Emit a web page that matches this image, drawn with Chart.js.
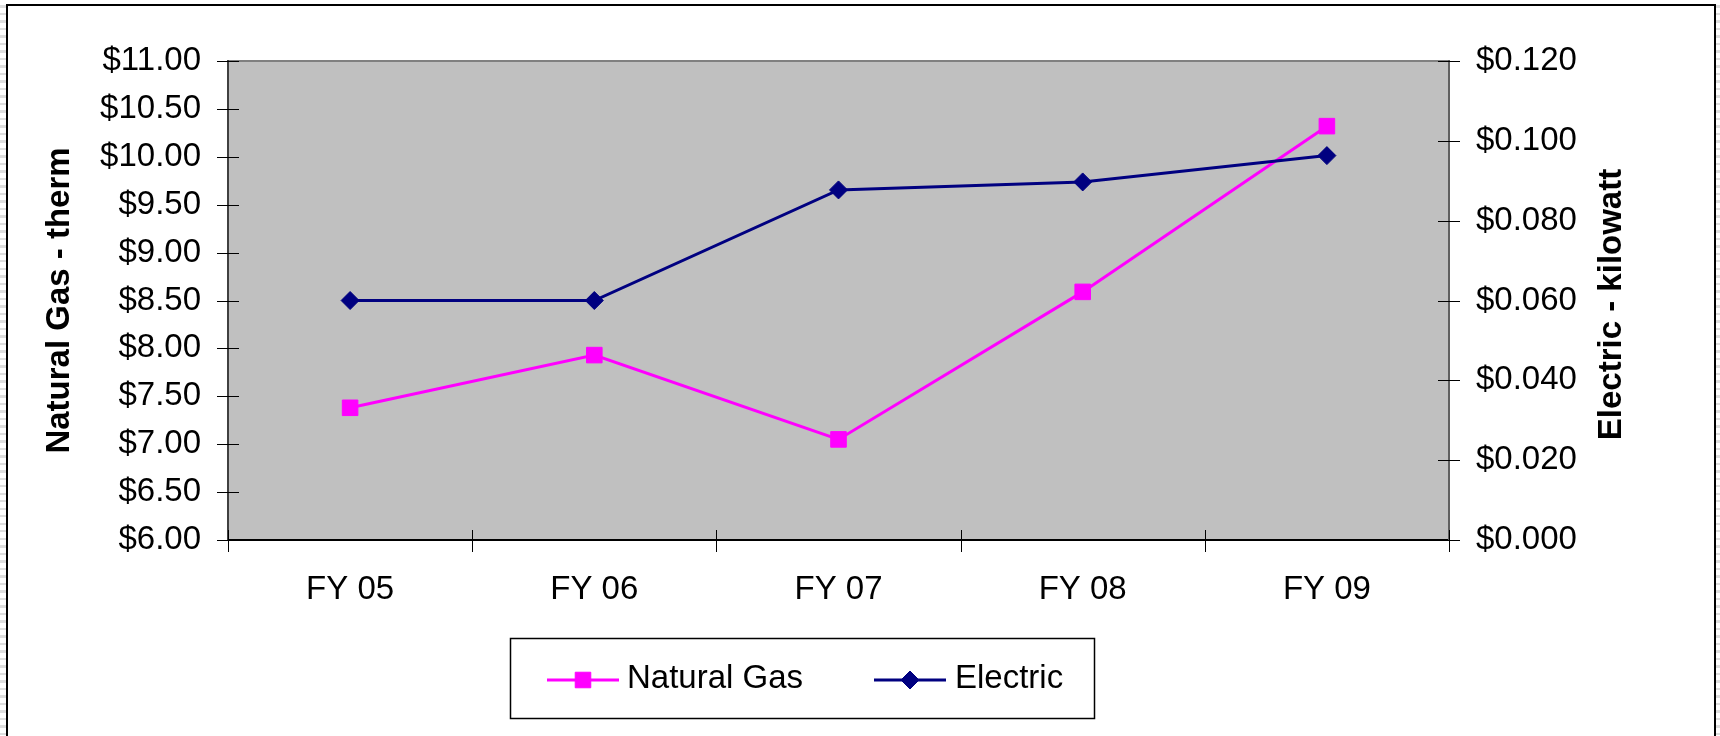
<!DOCTYPE html>
<html>
<head>
<meta charset="utf-8">
<title>Natural Gas and Electric rates</title>
<script src="https://cdn.jsdelivr.net/npm/chart.js@4.4.1/dist/chart.umd.min.js"></script>
<style>
  html, body { margin: 0; padding: 0; }
  body {
    width: 1720px;
    height: 736px;
    overflow: hidden;
    position: relative;
    background: repeating-linear-gradient(to bottom, #ffffff 0 5px, #dedede 5px 7.5px);
  }
  #frame {
    position: absolute;
    left: 6px;
    top: 4px;
    width: 1706px;
    height: 760px;
    border: 2px solid #000;
    background: #fff;
  }
  #chart { position: absolute; left: 0; top: 0; }
</style>
</head>
<body>
<div id="frame"></div>
<canvas id="chart" width="1720" height="736"></canvas>
<script>
const categories = ["FY 05", "FY 06", "FY 07", "FY 08", "FY 09"];
const gasPerTherm = [7.38, 7.93, 7.05, 8.59, 10.32];
const electricPerKw = [0.06, 0.06, 0.0877, 0.0897, 0.0963];
const gasAxis = { min: 6, max: 11, step: 0.5 };
const electricAxis = { min: 0, max: 0.12, step: 0.02 };

const FONT = "'Liberation Sans', Arial, sans-serif";

// grey plot area with the grey top edge, like the Excel chart
const plotFrame = {
  id: "plotFrame",
  beforeDraw(chart) {
    const { ctx, chartArea: a } = chart;
    ctx.save();
    ctx.fillStyle = "#c0c0c0";
    ctx.fillRect(a.left, a.top, a.right - a.left, a.bottom - a.top);
    ctx.strokeStyle = "#808080";
    ctx.lineWidth = 2;
    ctx.beginPath();
    ctx.moveTo(a.left, a.top);
    ctx.lineTo(a.right, a.top);
    ctx.stroke();
    ctx.restore();
  },
};

// tick marks that cross the axis lines
const crossTicks = {
  id: "crossTicks",
  afterDraw(chart) {
    const { ctx, chartArea: a, scales } = chart;
    ctx.save();
    ctx.strokeStyle = "#000";
    ctx.lineWidth = 1;
    ctx.beginPath();
    scales.y.ticks.forEach((t, i) => {
      const y = Math.round(scales.y.getPixelForTick(i)) + 0.5;
      ctx.moveTo(a.left - 11, y);
      ctx.lineTo(a.left + 11, y);
    });
    scales.y1.ticks.forEach((t, i) => {
      const y = Math.round(scales.y1.getPixelForTick(i)) + 0.5;
      ctx.moveTo(a.right - 11, y);
      ctx.lineTo(a.right + 11, y);
    });
    for (let i = 0; i <= categories.length; i++) {
      const x = Math.round(scales.x.getPixelForValue(i - 0.5)) + 0.5;
      ctx.moveTo(x, a.bottom - 10);
      ctx.lineTo(x, a.bottom + 12);
    }
    ctx.stroke();
    ctx.restore();
  },
};

// right axis title reads bottom-to-top, Chart.js would turn it the other way
const rightTitle = {
  id: "rightTitle",
  afterDraw(chart) {
    const { ctx, chartArea: a } = chart;
    ctx.save();
    ctx.translate(1612, (a.top + a.bottom) / 2 + 4);
    ctx.rotate(-Math.PI / 2);
    ctx.font = "bold 33px " + FONT;
    ctx.fillStyle = "#000";
    ctx.textAlign = "center";
    ctx.textBaseline = "middle";
    ctx.fillText("Electric - kilowatt", 0, 0);
    ctx.restore();
  },
};

// boxed legend with line + marker samples
const boxLegend = {
  id: "boxLegend",
  afterDraw(chart) {
    const { ctx } = chart;
    const box = { x: 510.5, y: 638.5, w: 584, h: 80 };
    const slots = [{ lineX: 547, textX: 627 }, { lineX: 874, textX: 955 }];
    const cy = 680;
    ctx.save();
    ctx.strokeStyle = "#000";
    ctx.lineWidth = 1.5;
    ctx.strokeRect(box.x, box.y, box.w, box.h);
    chart.data.datasets.forEach((ds, i) => {
      const s = slots[i];
      ctx.strokeStyle = ds.borderColor;
      ctx.fillStyle = ds.pointBackgroundColor;
      ctx.lineWidth = ds.borderWidth;
      ctx.beginPath();
      ctx.moveTo(s.lineX, cy);
      ctx.lineTo(s.lineX + 72, cy);
      ctx.stroke();
      ctx.lineWidth = 1;
      Chart.helpers.drawPoint(ctx, { pointStyle: ds.pointStyle, radius: ds.pointRadius, borderWidth: 1, rotation: 0 }, s.lineX + 36, cy);
      ctx.fillStyle = "#000";
      ctx.font = "33px " + FONT;
      ctx.textAlign = "left";
      ctx.textBaseline = "middle";
      ctx.fillText(ds.label, s.textX, cy - 1);
    });
    ctx.restore();
  },
};

new Chart(document.getElementById("chart"), {
  type: "line",
  data: {
    labels: categories,
    datasets: [
      {
        label: "Natural Gas",
        data: gasPerTherm,
        yAxisID: "y",
        order: 1,
        borderColor: "#ff00ff",
        borderWidth: 3,
        pointStyle: "rect",
        pointRadius: 11,
        pointBackgroundColor: "#ff00ff",
        pointBorderColor: "#ff00ff",
        pointBorderWidth: 1,
        tension: 0,
      },
      {
        label: "Electric",
        data: electricPerKw,
        yAxisID: "y1",
        order: 0,
        borderColor: "#000080",
        borderWidth: 3,
        pointStyle: "rectRot",
        pointRadius: 9,
        pointBackgroundColor: "#000080",
        pointBorderColor: "#000080",
        pointBorderWidth: 1,
        tension: 0,
      },
    ],
  },
  options: {
    responsive: false,
    animation: false,
    devicePixelRatio: 1,
    layout: { padding: { top: 61, left: 0, right: 0, bottom: 0 } },
    plugins: { legend: { display: false }, tooltip: { enabled: false } },
    scales: {
      x: {
        type: "category",
        offset: true,
        grid: { drawOnChartArea: false, drawTicks: false },
        border: { color: "#000", width: 2 },
        ticks: { color: "#000", font: { family: FONT, size: 33 }, padding: 30, maxRotation: 0 },
        afterFit(scale) { scale.height = 196; },
      },
      y: {
        position: "left",
        min: gasAxis.min,
        max: gasAxis.max,
        grid: { drawOnChartArea: false, drawTicks: false },
        border: { color: "#404040", width: 2 },
        ticks: {
          stepSize: gasAxis.step,
          color: "#000",
          font: { family: FONT, size: 33 },
          padding: 27,
          callback: (v) => "$" + Number(v).toFixed(2),
        },
        title: {
          display: true,
          text: "Natural Gas - therm",
          color: "#000",
          font: { family: FONT, size: 33, weight: "bold", lineHeight: 1.2 },
          padding: { top: 40, bottom: 0 },
        },
        afterFit(scale) { scale.width = 228; },
      },
      y1: {
        position: "right",
        min: electricAxis.min,
        max: electricAxis.max,
        grid: { drawOnChartArea: false, drawTicks: false },
        border: { color: "#606060", width: 2 },
        ticks: {
          stepSize: electricAxis.step,
          color: "#000",
          font: { family: FONT, size: 33 },
          padding: 27,
          callback: (v) => "$" + Number(v).toFixed(3),
        },
        afterFit(scale) { scale.width = 271; },
      },
    },
  },
  plugins: [plotFrame, crossTicks, rightTitle, boxLegend],
});
</script>
</body>
</html>
